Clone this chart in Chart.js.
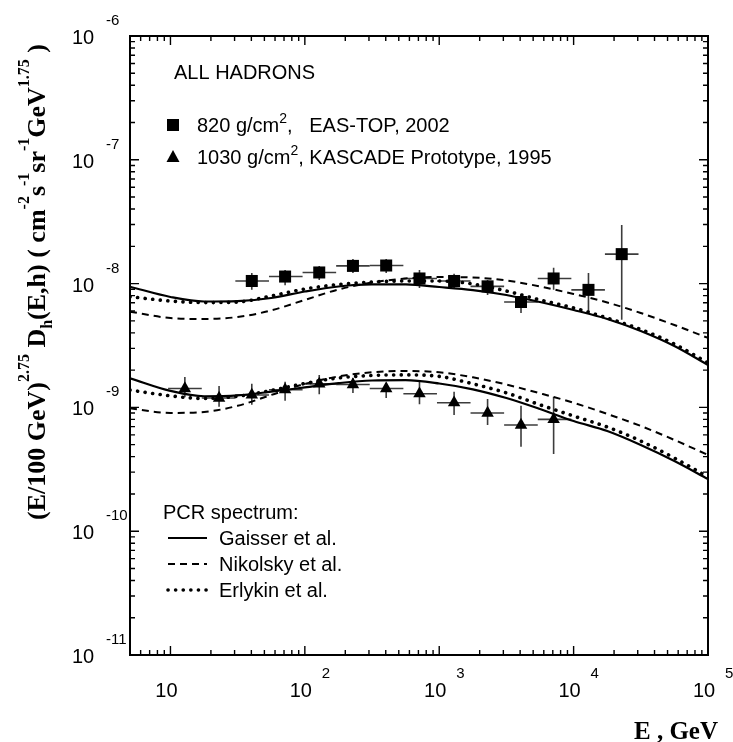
<!DOCTYPE html>
<html>
<head>
<meta charset="utf-8">
<script src="https://cdn.jsdelivr.net/npm/chart.js@4.4.1/dist/chart.umd.min.js"></script>
<style>
  html, body { margin: 0; padding: 0; background: #fff; }
  #wrap { position: relative; width: 733px; height: 742px; }
</style>
</head>
<body>
<div id="wrap"><canvas id="canvas"></canvas></div>
<script>
'use strict';

// energy bins (GeV), shared by both experiments
var binEdges = [9.6, 17.1, 30.4, 54.1, 96.2, 171, 304, 541, 962, 1710, 3040, 5410, 9620, 17100, 30400];

// EAS-TOP, 820 g/cm2 (squares)
var easE  = [40.3, 71.3, 128, 228, 403, 713, 1290, 2290, 4060, 7100, 12900, 22800];
var easY  = [1.05e-8, 1.14e-8, 1.23e-8, 1.39e-8, 1.40e-8, 1.10e-8, 1.05e-8, 9.5e-9, 7.1e-9, 1.10e-8, 8.9e-9, 1.73e-8];
var easHi = [1.22e-8, 1.29e-8, 1.39e-8, 1.58e-8, 1.58e-8, 1.29e-8, 1.20e-8, 1.07e-8, 8.1e-9, 1.34e-8, 1.22e-8, 2.97e-8];
var easLo = [8.9e-9, 9.7e-9, 1.07e-8, 1.22e-8, 1.22e-8, 9.2e-9, 9.2e-9, 8.1e-9, 5.8e-9, 8.9e-9, 5.9e-9, 5.1e-9];

// KASCADE prototype, 1030 g/cm2 (triangles)
var kasE  = [12.8, 23, 40.3, 71.3, 128, 228, 403, 713, 1290, 2290, 4060, 7100];
var kasY  = [1.42e-9, 1.19e-9, 1.26e-9, 1.39e-9, 1.55e-9, 1.53e-9, 1.42e-9, 1.29e-9, 1.09e-9, 9.0e-10, 7.2e-10, 8.0e-10];
var kasHi = [1.76e-9, 1.49e-9, 1.55e-9, 1.61e-9, 1.83e-9, 1.73e-9, 1.57e-9, 1.66e-9, 1.34e-9, 1.17e-9, 1.03e-9, 1.22e-9];
var kasLo = [1.21e-9, 1.01e-9, 1.05e-9, 1.13e-9, 1.28e-9, 1.31e-9, 1.19e-9, 1.06e-9, 8.7e-10, 7.2e-10, 4.8e-10, 4.2e-10];

// calculations for the three primary spectra
var curveE      = [5, 10, 17.8, 31.6, 56.2, 100, 178, 316, 562, 1000, 1780, 3160, 5620, 10000, 17800, 31600, 56200, 100000];
var gaisserUp   = [9.44e-9, 7.80e-9, 7.17e-9, 7.23e-9, 7.65e-9, 8.63e-9, 9.48e-9, 9.84e-9, 9.84e-9, 9.39e-9, 8.87e-9, 8.09e-9, 7.10e-9, 6.12e-9, 5.18e-9, 4.14e-9, 3.13e-9, 2.20e-9];
var nikolskyUp  = [5.93e-9, 5.27e-9, 5.18e-9, 5.37e-9, 6.07e-9, 7.38e-9, 8.96e-9, 1.02e-8, 1.10e-8, 1.13e-8, 1.12e-8, 1.06e-8, 9.48e-9, 8.24e-9, 7.04e-9, 5.79e-9, 4.63e-9, 3.64e-9];
var erlykinUp   = [7.84e-9, 7.23e-9, 7.02e-9, 7.10e-9, 7.94e-9, 9.04e-9, 9.84e-9, 1.03e-8, 1.05e-8, 1.05e-8, 9.93e-9, 8.71e-9, 7.38e-9, 6.36e-9, 5.27e-9, 4.26e-9, 3.25e-9, 2.29e-9];
var gaisserLow  = [1.72e-9, 1.36e-9, 1.23e-9, 1.25e-9, 1.34e-9, 1.45e-9, 1.57e-9, 1.65e-9, 1.66e-9, 1.56e-9, 1.40e-9, 1.19e-9, 9.70e-10, 7.76e-10, 6.44e-10, 4.97e-10, 3.69e-10, 2.64e-10];
var nikolskyLow = [9.84e-10, 9.02e-10, 9.19e-10, 1.03e-9, 1.26e-9, 1.55e-9, 1.78e-9, 1.92e-9, 1.97e-9, 1.92e-9, 1.75e-9, 1.53e-9, 1.30e-9, 1.09e-9, 8.85e-10, 7.08e-10, 5.46e-10, 4.13e-10];
var erlykinLow  = [1.38e-9, 1.24e-9, 1.18e-9, 1.23e-9, 1.37e-9, 1.56e-9, 1.73e-9, 1.81e-9, 1.83e-9, 1.78e-9, 1.55e-9, 1.31e-9, 1.05e-9, 8.52e-10, 6.94e-10, 5.35e-10, 3.90e-10, 2.74e-10];

// axis labels
var xTicks   = [10, 100, 1000, 10000, 100000];
var xTickExp = ['', '2', '3', '4', '5'];
var yTicks   = [1e-6, 1e-7, 1e-8, 1e-9, 1e-10, 1e-11];
var yTickExp = ['-6', '-7', '-8', '-9', '-10', '-11'];

var SANS  = '"Liberation Sans", Arial, Helvetica, sans-serif';
var SERIF = '"Liberation Serif", "Times New Roman", serif';

function pts(xs, ys) {
    return xs.map(function (x, i) { return {x: x, y: ys[i]}; });
}

function curve(label, ys, dash, width) {
    return {
        label: label,
        data: pts(curveE, ys),
        borderColor: '#000',
        borderWidth: width,
        borderDash: dash,
        borderCapStyle: dash.length && dash[0] < 1 ? 'round' : 'butt',
        pointRadius: 0,
        fill: false,
        cubicInterpolationMode: 'monotone'
    };
}

// rich text: parts are [text, 'n' | 'sup' | 'sub']
function drawRich(ctx, parts, x, y, size, family, weight, opts) {
    var cx = x;
    opts = opts || {};
    parts.forEach(function (p) {
        var s = p[1] === 'n' ? size : Math.round(size * (opts.small || 0.68)),
            dy = p[1] === 'sup' ? -size * (opts.up || 0.45) : (p[1] === 'sub' ? size * 0.25 : 0);
        ctx.font = weight + ' ' + s + 'px ' + family;
        if (!opts.measure) ctx.fillText(p[0], cx, y + dy);
        cx += ctx.measureText(p[0]).width;
    });
    return cx - x;
}

// '10' centred on x with the exponent set off to the upper right
function drawPower(ctx, exp, x, y, expGap) {
    ctx.font = '20px ' + SANS;
    ctx.textAlign = 'center';
    ctx.fillText('10', x, y);
    if (exp) {
        ctx.font = '15px ' + SANS;
        ctx.textAlign = 'left';
        ctx.fillText(exp, x + expGap, y - 19);
    }
}

function marker(ctx, style, x, y) {
    ctx.beginPath();
    if (style === 'rect') {
        ctx.rect(x - 6, y - 6, 12, 12);
    } else {
        ctx.moveTo(x, y - 7);
        ctx.lineTo(x + 6.5, y + 5);
        ctx.lineTo(x - 6.5, y + 5);
        ctx.closePath();
    }
    ctx.fill();
}

var decor = {
    id: 'decor',
    beforeDatasetsDraw: function (chart) {
        var ctx = chart.ctx, xs = chart.scales.x, ys = chart.scales.y;
        ctx.save();
        ctx.strokeStyle = '#3c3c3c';
        ctx.lineWidth = 1.6;
        function bars(E, Y, lo, hi, off) {
            E.forEach(function (e, i) {
                var px = xs.getPixelForValue(e), py = ys.getPixelForValue(Y[i]);
                ctx.beginPath();
                ctx.moveTo(xs.getPixelForValue(binEdges[i + off]), py);
                ctx.lineTo(xs.getPixelForValue(binEdges[i + off + 1]), py);
                ctx.moveTo(px, ys.getPixelForValue(hi[i]));
                ctx.lineTo(px, ys.getPixelForValue(lo[i]));
                ctx.stroke();
            });
        }
        bars(easE, easY, easLo, easHi, 2);
        bars(kasE, kasY, kasLo, kasHi, 0);
        ctx.restore();
    },
    afterDraw: function (chart) {
        var ctx = chart.ctx, a = chart.chartArea, xs = chart.scales.x, ys = chart.scales.y;
        ctx.save();
        ctx.fillStyle = '#000';
        ctx.strokeStyle = '#000';

        // frame
        ctx.lineWidth = 2;
        ctx.strokeRect(a.left, a.top, a.right - a.left, a.bottom - a.top);

        // inward ticks on all four sides
        ctx.lineWidth = 1.4;
        ctx.beginPath();
        var d, m, v, p, len;
        for (d = 0; d <= 5; d++) {
            for (m = 1; m <= 9; m++) {
                v = m * Math.pow(10, d);
                if (v < xs.min || v > xs.max) continue;
                p = xs.getPixelForValue(v);
                len = m === 1 ? 9 : 5;
                ctx.moveTo(p, a.bottom); ctx.lineTo(p, a.bottom - len);
                ctx.moveTo(p, a.top);    ctx.lineTo(p, a.top + len);
            }
        }
        for (d = -11; d <= -6; d++) {
            for (m = 1; m <= 9; m++) {
                v = m * Math.pow(10, d);
                if (v < ys.min * 0.999 || v > ys.max * 1.001) continue;
                p = ys.getPixelForValue(v);
                len = m === 1 ? 9 : 5;
                ctx.moveTo(a.left, p);  ctx.lineTo(a.left + len, p);
                ctx.moveTo(a.right, p); ctx.lineTo(a.right - len, p);
            }
        }
        ctx.stroke();

        // tick labels
        ctx.textBaseline = 'alphabetic';
        xTicks.forEach(function (t, i) {
            drawPower(ctx, xTickExp[i], xs.getPixelForValue(t) - 4, a.bottom + 42, 21);
        });
        yTicks.forEach(function (t, i) {
            drawPower(ctx, yTickExp[i], 83, ys.getPixelForValue(t) + 8, 23);
        });

        // axis titles
        ctx.textAlign = 'right';
        ctx.font = 'bold 25px ' + SERIF;
        ctx.fillText('E , GeV', 718, 739);

        var title = [['(E/100 GeV)', 'n'], ['2.75', 'sup'], [' D', 'n'], ['h', 'sub'],
                     ['(E,h) ( cm', 'n'], ['-2', 'sup'], ['s', 'n'], ['-1', 'sup'],
                     ['sr', 'n'], ['-1', 'sup'], ['GeV', 'n'], ['1.75', 'sup'], [' )', 'n']],
            topt = {small: 0.6, up: 0.6};
        ctx.textAlign = 'left';
        ctx.translate(45, 282);
        ctx.rotate(-Math.PI / 2);
        topt.measure = true;
        var w = drawRich(ctx, title, 0, 0, 26, SERIF, 'bold', topt);
        topt.measure = false;
        drawRich(ctx, title, -w / 2, 0, 26, SERIF, 'bold', topt);
        ctx.setTransform(1, 0, 0, 1, 0, 0);

        // legend, upper part
        ctx.textAlign = 'left';
        ctx.font = '20px ' + SANS;
        ctx.fillText('ALL HADRONS', 174, 79);
        marker(ctx, 'rect', 173, 125);
        drawRich(ctx, [['820 g/cm', 'n'], ['2', 'sup'], [',   EAS-TOP, 2002', 'n']], 197, 132, 20, SANS, 'normal');
        marker(ctx, 'tri', 173, 157);
        drawRich(ctx, [['1030 g/cm', 'n'], ['2', 'sup'], [', KASCADE Prototype, 1995', 'n']], 197, 164, 20, SANS, 'normal');

        // legend, lower part
        ctx.font = '20px ' + SANS;
        ctx.fillText('PCR spectrum:', 163, 519);
        var rows = [['Gaisser et al.', [], 2.2], ['Nikolsky et al.', [7, 5], 2], ['Erlykin et al.', [0.1, 7.5], 3.6]];
        rows.forEach(function (r, i) {
            var y = 545 + i * 26;
            ctx.font = '20px ' + SANS;
            ctx.fillText(r[0], 219, y);
            ctx.setLineDash(r[1]);
            ctx.lineWidth = r[2];
            ctx.lineCap = r[1].length && r[1][0] < 1 ? 'round' : 'butt';
            ctx.beginPath();
            ctx.moveTo(168, y - 7);
            ctx.lineTo(207, y - 7);
            ctx.stroke();
        });
        ctx.restore();
    }
};

new Chart(document.getElementById('canvas').getContext('2d'), {
    type: 'line',
    data: {
        datasets: [
            curve('Gaisser, 820', gaisserUp, [], 2.2),
            curve('Nikolsky, 820', nikolskyUp, [7, 5], 2),
            curve('Erlykin, 820', erlykinUp, [0.1, 7.5], 3.6),
            curve('Gaisser, 1030', gaisserLow, [], 2.2),
            curve('Nikolsky, 1030', nikolskyLow, [7, 5], 2),
            curve('Erlykin, 1030', erlykinLow, [0.1, 7.5], 3.6),
            {
                label: 'EAS-TOP',
                data: pts(easE, easY),
                showLine: false,
                pointStyle: 'rect',
                pointRadius: 8.5,
                pointBackgroundColor: '#000',
                pointBorderWidth: 0
            },
            {
                label: 'KASCADE',
                data: pts(kasE, kasY),
                showLine: false,
                pointStyle: 'triangle',
                pointRadius: 7.2,
                pointBackgroundColor: '#000',
                pointBorderWidth: 0
            }
        ]
    },
    options: {
        responsive: true,
        maintainAspectRatio: false,
        animation: false,
        events: [],
        layout: {padding: {left: 130, right: 25, top: 36, bottom: 87}},
        plugins: {legend: {display: false}, tooltip: {enabled: false}},
        scales: {
            x: {type: 'logarithmic', min: 5, max: 100000, display: false},
            y: {type: 'logarithmic', min: 1e-11, max: 1e-6, display: false}
        }
    },
    plugins: [decor]
});
</script>
</body>
</html>
